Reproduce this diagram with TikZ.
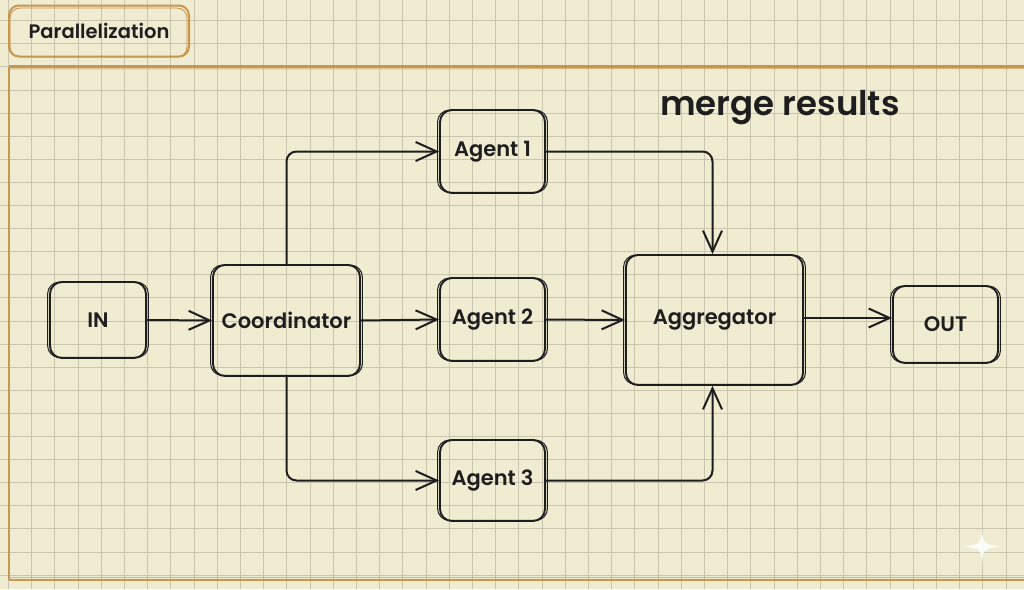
\documentclass[tikz,border=0pt]{standalone}
\usepackage{fontspec}
\setmainfont{Poppins}[BoldFont={Poppins SemiBold}]
\usetikzlibrary{arrows.meta}
\definecolor{bg}{HTML}{EFECD2}
\definecolor{gridc}{HTML}{C9C5AE}
\definecolor{tan}{HTML}{C9964E}
\definecolor{ink}{HTML}{1E1E1E}
\tikzset{
  box/.style={draw=ink, line width=1.9pt, rounded corners=12pt, inner sep=0pt,
    text=ink, font=\fontsize{21}{25}\selectfont\bfseries},
  sk/.style={draw=ink, line width=1pt, rounded corners=12pt},
  arr/.style={draw=ink, line width=2pt, rounded corners=10pt,
    -{Straight Barb[length=21pt,width=19pt,line width=2pt]}},
  tanline/.style={draw=tan, line width=2.4pt},
}
\newcommand{\skbox}[1]{\draw[sk] ([shift={(-1.5pt,1.5pt)}]#1.south west) rectangle ([shift={(1.5pt,-1pt)}]#1.north east);}
\begin{document}
\begin{tikzpicture}[x=1pt,y=-1pt]
\useasboundingbox (0,0) rectangle (1024,589);
\fill[bg] (0,0) rectangle (1024,589);
% grid
\foreach \k in {0,...,44} {\draw[gridc, line width=1pt] ({8.5+23.2*\k},0) -- ({8.5+23.2*\k},589);}
\foreach \k in {0,...,26} {\draw[gridc, line width=1pt] (0,{-2.4+23.1*\k}) -- (1024,{-2.4+23.1*\k});}
% frame
\draw[tanline] (9,66.5) -- (1030,66.5);
\draw[tan, line width=1pt, opacity=0.6] (9,69) -- (1030,68.5);
\draw[tanline] (9,66.5) -- (9,580);
\draw[tanline] (9,580) -- (1030,580);
\draw[tan, line width=1pt, opacity=0.6] (9,577.5) -- (1030,577.5);
% title
\node[draw=tan, line width=2pt, rounded corners=10pt, minimum width=180pt, minimum height=51pt,
  inner sep=0pt, text=ink, font=\fontsize{19.5}{23}\selectfont\bfseries] (title) at (99,31) {Parallelization};
\draw[tan, line width=0.9pt, rounded corners=10pt] (10,8) rectangle (187,57);
% nodes
\node[box, minimum width=96pt, minimum height=76pt] (in) at (98,320) {IN};
\node[box, minimum width=147pt, minimum height=111pt] (coord) at (286.5,320.5) {Coordinator};
\node[box, minimum width=105pt, minimum height=83pt] (a1) at (492.5,151.5) {Agent 1};
\node[box, minimum width=105pt, minimum height=83pt] (a2) at (492.5,319.5) {Agent 2};
\node[box, minimum width=105pt, minimum height=81pt] (a3) at (492.5,480.5) {Agent 3};
\node[box, minimum width=177pt, minimum height=130pt] (agg) at (714.5,320) {Aggregator};
\node[box, minimum width=105pt, minimum height=77pt] (out) at (945.5,324.5) {OUT};
\foreach \n in {in,coord,a1,a2,a3,agg,out} {\skbox{\n}}
\node[text=ink, font=\fontsize{34}{40}\selectfont\bfseries] (merge) at (780,108) {merge results};
% connectors
\draw[arr] (in.east) -- (coord.west);
\draw[arr] (coord.east) -- (a2.west);
\draw[arr] (coord.north) |- (a1.west);
\draw[arr] (coord.south) |- (a3.west);
\draw[arr] (a1.east) -| ([xshift=-2pt]agg.north);
\draw[arr] (a2.east) -- (agg.west);
\draw[arr] (a3.east) -| ([xshift=-2pt]agg.south);
\draw[arr] ([yshift=2pt]agg.east) -- ([yshift=2pt]agg.east -| out.west);
% sparkle
\fill[white, opacity=0.85] (982,528) .. controls (983,544) .. (1000,546.5) .. controls (983,549) .. (982,565) .. controls (981,549) .. (964,546.5) .. controls (981,544) .. (982,528) -- cycle;
\end{tikzpicture}
\end{document}
